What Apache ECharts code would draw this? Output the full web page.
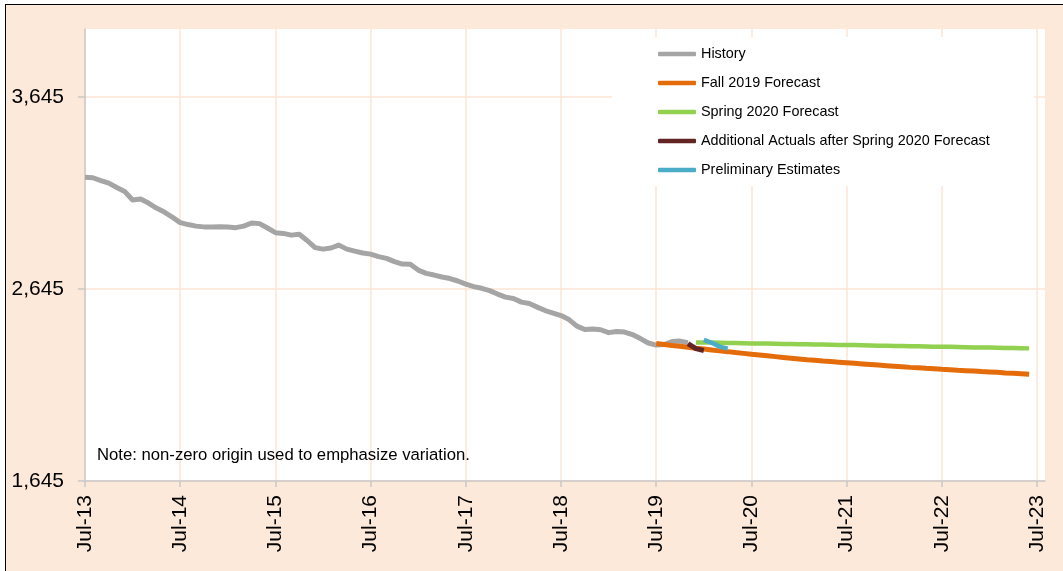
<!DOCTYPE html>
<html>
<head>
<meta charset="utf-8">
<script src="https://cdn.jsdelivr.net/npm/echarts@6/dist/echarts.min.js"></script>
<style>
  html, body { margin: 0; padding: 0; background: #ffffff; }
  #frame { position: absolute; left: 5px; top: 4px; width: 1070px; height: 580px;
           background: #FDE9D9; border-top: 1px solid #000; border-left: 1px solid #000; }
  #chart { position: absolute; left: 0; top: 0; width: 1063px; height: 571px; }
</style>
</head>
<body>
<div id="frame"></div>
<div id="chart"></div>
<script>
// ---- Data ----
const categories = [
  "Jul-13","Aug-13","Sep-13","Oct-13","Nov-13","Dec-13",
  "Jan-14","Feb-14","Mar-14","Apr-14","May-14","Jun-14","Jul-14","Aug-14","Sep-14","Oct-14","Nov-14","Dec-14",
  "Jan-15","Feb-15","Mar-15","Apr-15","May-15","Jun-15","Jul-15","Aug-15","Sep-15","Oct-15","Nov-15","Dec-15",
  "Jan-16","Feb-16","Mar-16","Apr-16","May-16","Jun-16","Jul-16","Aug-16","Sep-16","Oct-16","Nov-16","Dec-16",
  "Jan-17","Feb-17","Mar-17","Apr-17","May-17","Jun-17","Jul-17","Aug-17","Sep-17","Oct-17","Nov-17","Dec-17",
  "Jan-18","Feb-18","Mar-18","Apr-18","May-18","Jun-18","Jul-18","Aug-18","Sep-18","Oct-18","Nov-18","Dec-18",
  "Jan-19","Feb-19","Mar-19","Apr-19","May-19","Jun-19","Jul-19","Aug-19","Sep-19","Oct-19","Nov-19","Dec-19",
  "Jan-20","Feb-20","Mar-20","Apr-20","May-20","Jun-20","Jul-20","Aug-20","Sep-20","Oct-20","Nov-20","Dec-20",
  "Jan-21","Feb-21","Mar-21","Apr-21","May-21","Jun-21","Jul-21","Aug-21","Sep-21","Oct-21","Nov-21","Dec-21",
  "Jan-22","Feb-22","Mar-22","Apr-22","May-22","Jun-22","Jul-22","Aug-22","Sep-22","Oct-22","Nov-22","Dec-22",
  "Jan-23","Feb-23","Mar-23","Apr-23","May-23","Jun-23","Jul-23","Aug-23"
];
const yTickLabels = [1645, 2645, 3645];

const historyStart = "Jul-13";
const historyValues = [
  3227,3225,3210,3197,3174,3153,3109,3114,3093,3067,
  3046,3020,2991,2981,2973,2969,2969,2970,2968,2965,
  2973,2989,2986,2963,2939,2935,2926,2931,2898,2861,
  2853,2859,2874,2853,2843,2833,2827,2814,2805,2788,
  2775,2774,2744,2727,2718,2708,2700,2687,2671,2658,
  2649,2637,2619,2603,2596,2577,2570,2551,2533,2520,
  2507,2486,2452,2434,2437,2433,2418,2424,2421,2408,
  2387,2364,2353,2356,2372,2374,2366
];

const fall2019Start = "Jul-19";
const fall2019Values = [
  2361,2356,2351,2347,2342,2337,2333,2328,2323,2319,
  2314,2310,2305,2301,2297,2293,2289,2285,2281,2277,
  2274,2270,2267,2264,2261,2258,2255,2252,2249,2246,
  2243,2240,2237,2235,2232,2230,2227,2225,2222,2220,
  2218,2215,2213,2211,2208,2206,2204,2201
];

const spring2020Start = "Dec-19";
const spring2020Values = [
  2367,2366,2366,2365,2364,2364,2363,2362,2362,2361,
  2360,2359,2359,2358,2357,2356,2356,2355,2354,2353,
  2353,2352,2351,2350,2350,2349,2348,2347,2347,2346,
  2345,2344,2344,2343,2342,2341,2341,2340,2339,2338,
  2338,2337,2336
];

const actualsStart = "Nov-19";
const actualsValues = [2361, 2335, 2325];

const prelimStart = "Jan-20";
const prelimValues = [2380, 2365, 2345, 2335];

// ---- Build ----
function toPairs(start, values) {
  const s = categories.indexOf(start);
  return values.map((v, k) => [s + k, v]);
}
const FONT = '"Liberation Sans", Arial, sans-serif';

const seriesDefs = [
  { name: "History", color: "#A5A5A5", width: 5, data: toPairs(historyStart, historyValues) },
  { name: "Fall 2019 Forecast", color: "#E46C0A", width: 5, data: toPairs(fall2019Start, fall2019Values) },
  { name: "Spring 2020 Forecast", color: "#92D050", width: 4.5, data: toPairs(spring2020Start, spring2020Values) },
  { name: "Additional Actuals after Spring 2020 Forecast", color: "#632523", width: 5, data: toPairs(actualsStart, actualsValues) },
  { name: "Preliminary Estimates", color: "#4BACC6", width: 4.5, data: toPairs(prelimStart, prelimValues) }
];

const chart = echarts.init(document.getElementById('chart'), null, { renderer: 'canvas' });
const option = {
  animation: false,
  backgroundColor: 'transparent',
  grid: { left: 85, right: 18, top: 29, bottom: 90, show: true, backgroundColor: '#ffffff', borderWidth: 0, containLabel: false },
  legend: {
    orient: 'vertical',
    left: 612, top: 37,
    padding: [9, 44, 8, 46],
    backgroundColor: '#ffffff',
    icon: 'roundRect',
    itemWidth: 38, itemHeight: 4.5,
    itemGap: 13,
    textStyle: { fontFamily: FONT, fontSize: 14.4, color: '#000', lineHeight: 16 },
    data: seriesDefs.map(s => s.name)
  },
  xAxis: {
    type: 'category',
    data: categories,
    boundaryGap: false,
    axisLine: { show: true, lineStyle: { color: '#C8C8C8', width: 1.5 } },
    axisTick: { show: true, length: 6, interval: (i) => i % 12 === 0, lineStyle: { color: '#C8C8C8', width: 1.5 } },
    axisLabel: { show: true, interval: (i) => i % 12 === 0, rotate: 90, margin: 14, fontFamily: FONT, fontSize: 21, color: '#000' },
    splitLine: { show: true, interval: (i) => i % 12 === 0, lineStyle: { color: '#FDE5D5', width: 1.5 } }
  },
  yAxis: {
    type: 'value',
    min: 1645, max: 4000, interval: 1000,
    axisLine: { show: true, lineStyle: { color: '#C8C8C8', width: 1.5 } },
    axisTick: { show: true, length: 7, customValues: yTickLabels, lineStyle: { color: '#C8C8C8', width: 1.5 } },
    axisLabel: { show: true, customValues: yTickLabels, margin: 21, fontFamily: FONT, fontSize: 21, color: '#000',
      formatter: (v) => Number(v).toLocaleString('en-US') },
    splitLine: { show: true, lineStyle: { color: '#FDE5D5', width: 1.5 } }
  },
  graphic: [{
    type: 'text', x: 97, y: 455, z: 100,
    style: { text: 'Note: non-zero origin used to emphasize variation.', font: '16.7px ' + FONT, fill: '#000', verticalAlign: 'middle' }
  }],
  series: seriesDefs.map(s => ({
    name: s.name, type: 'line', data: s.data, showSymbol: false, symbol: 'none',
    itemStyle: { color: s.color },
    lineStyle: { color: s.color, width: s.width, join: 'round' },
    emphasis: { disabled: true }
  }))
};
chart.setOption(option);
</script>
</body>
</html>
